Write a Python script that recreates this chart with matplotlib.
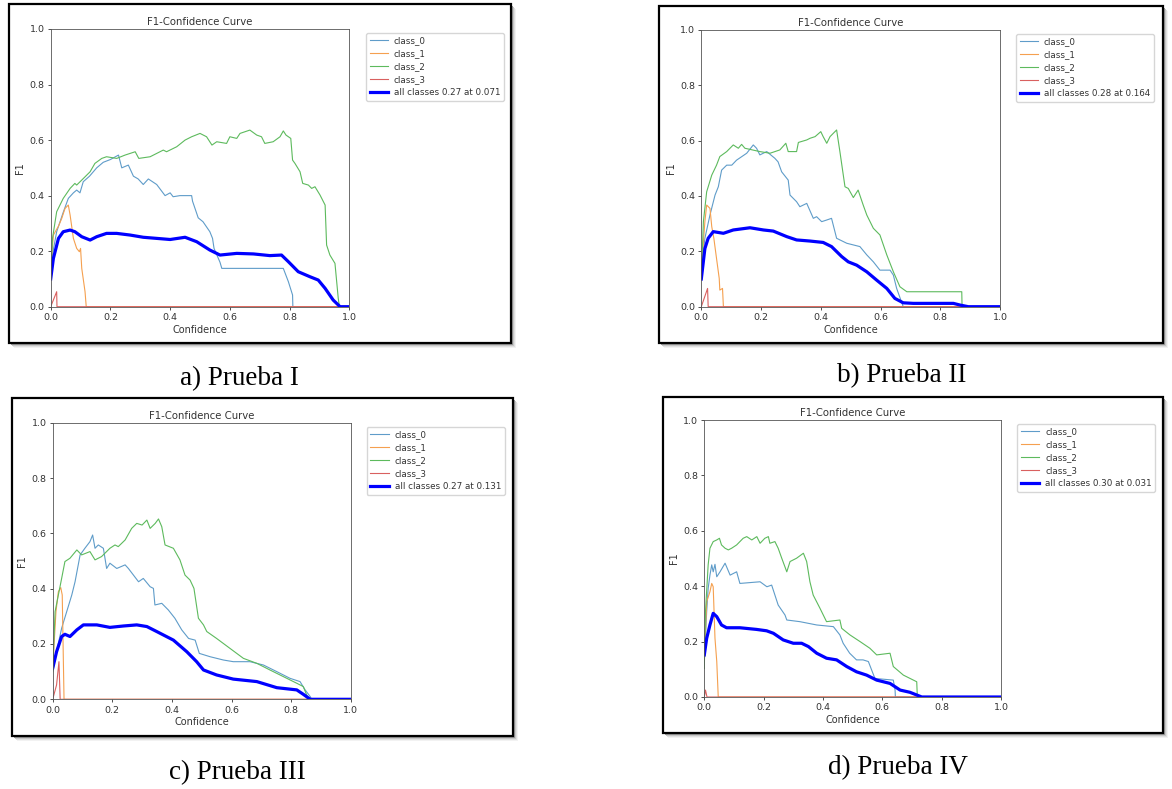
import matplotlib.pyplot as plt
from matplotlib.patches import Rectangle

# ---- data (confidence, F1) ----
# a) Prueba I
a_c0_x = [0, 0.003, 0.02, 0.042, 0.059, 0.076, 0.087, 0.098, 0.109, 0.13, 0.154, 0.176, 0.2, 0.227, 0.238, 0.26, 0.277, 0.293, 0.31, 0.327, 0.355, 0.383, 0.4, 0.41, 0.433, 0.472, 0.475, 0.494, 0.51, 0.533, 0.542, 0.547, 0.567, 0.573, 0.779, 0.796, 0.81, 0.811, 1.0]
a_c0_y = [0.1, 0.17, 0.27, 0.34, 0.39, 0.41, 0.42, 0.41, 0.45, 0.47, 0.5, 0.52, 0.53, 0.546, 0.5, 0.51, 0.47, 0.46, 0.44, 0.46, 0.44, 0.40, 0.41, 0.396, 0.40, 0.40, 0.38, 0.32, 0.306, 0.27, 0.246, 0.21, 0.16, 0.138, 0.138, 0.09, 0.042, 0, 0]
a_c1_x = [0, 0.009, 0.026, 0.037, 0.048, 0.059, 0.065, 0.076, 0.087, 0.096, 0.1, 0.104, 0.115, 0.119, 1.0]
a_c1_y = [0.13, 0.258, 0.29, 0.318, 0.354, 0.366, 0.33, 0.246, 0.21, 0.198, 0.21, 0.138, 0.054, 0, 0]
a_c2_x = [0, 0.006, 0.02, 0.042, 0.065, 0.081, 0.087, 0.104, 0.132, 0.148, 0.171, 0.187, 0.221, 0.249, 0.283, 0.295, 0.333, 0.377, 0.388, 0.422, 0.45, 0.472, 0.5, 0.522, 0.54, 0.556, 0.589, 0.6, 0.623, 0.634, 0.667, 0.69, 0.706, 0.717, 0.745, 0.768, 0.779, 0.788, 0.796, 0.804, 0.81, 0.818, 0.835, 0.844, 0.863, 0.874, 0.885, 0.902, 0.919, 0.924, 0.935, 0.952, 0.963, 0.967, 1.0]
a_c2_y = [0.1, 0.246, 0.342, 0.39, 0.426, 0.444, 0.438, 0.456, 0.486, 0.516, 0.534, 0.54, 0.534, 0.546, 0.558, 0.534, 0.54, 0.564, 0.558, 0.576, 0.6, 0.612, 0.624, 0.612, 0.582, 0.594, 0.588, 0.612, 0.606, 0.624, 0.636, 0.618, 0.612, 0.588, 0.594, 0.612, 0.633, 0.618, 0.612, 0.606, 0.528, 0.516, 0.486, 0.444, 0.438, 0.426, 0.432, 0.402, 0.366, 0.222, 0.186, 0.156, 0.03, 0, 0]
a_c3_x = [0, 0.02, 0.021, 1.0]
a_c3_y = [0, 0.054, 0, 0]
a_all_x = [0, 0.009, 0.026, 0.042, 0.065, 0.081, 0.104, 0.132, 0.154, 0.187, 0.221, 0.266, 0.31, 0.355, 0.4, 0.45, 0.489, 0.533, 0.567, 0.623, 0.679, 0.734, 0.773, 0.796, 0.829, 0.868, 0.896, 0.919, 0.946, 0.969, 1.0]
a_all_y = [0.1, 0.174, 0.246, 0.27, 0.276, 0.27, 0.252, 0.24, 0.252, 0.264, 0.264, 0.258, 0.25, 0.246, 0.242, 0.25, 0.234, 0.204, 0.186, 0.192, 0.19, 0.184, 0.186, 0.162, 0.126, 0.108, 0.096, 0.066, 0.024, 0, 0]

# b) Prueba II
b_c0_x = [0, 0.012, 0.029, 0.046, 0.057, 0.068, 0.085, 0.102, 0.118, 0.152, 0.174, 0.185, 0.196, 0.219, 0.246, 0.257, 0.269, 0.291, 0.297, 0.319, 0.33, 0.353, 0.375, 0.386, 0.403, 0.42, 0.436, 0.453, 0.487, 0.531, 0.554, 0.576, 0.598, 0.632, 0.643, 0.654, 0.676, 1.0]
b_c0_y = [0.126, 0.247, 0.331, 0.403, 0.433, 0.493, 0.511, 0.511, 0.529, 0.554, 0.584, 0.572, 0.548, 0.56, 0.536, 0.523, 0.487, 0.457, 0.403, 0.379, 0.361, 0.373, 0.319, 0.325, 0.307, 0.313, 0.319, 0.247, 0.229, 0.217, 0.187, 0.162, 0.132, 0.132, 0.114, 0.066, 0, 0]
b_c1_x = [0, 0.012, 0.018, 0.029, 0.035, 0.042, 0.051, 0.06, 0.062, 0.071, 0.074, 1.0]
b_c1_y = [0.126, 0.307, 0.367, 0.355, 0.289, 0.247, 0.174, 0.102, 0.06, 0.066, 0, 0]
b_c2_x = [0, 0.007, 0.018, 0.035, 0.051, 0.062, 0.085, 0.107, 0.124, 0.135, 0.146, 0.196, 0.23, 0.263, 0.283, 0.291, 0.319, 0.325, 0.353, 0.364, 0.381, 0.4, 0.408, 0.42, 0.431, 0.453, 0.464, 0.481, 0.492, 0.509, 0.525, 0.542, 0.554, 0.576, 0.598, 0.621, 0.643, 0.665, 0.688, 0.872, 0.873, 1.0]
b_c2_y = [0.1, 0.307, 0.415, 0.475, 0.511, 0.542, 0.56, 0.584, 0.572, 0.586, 0.572, 0.56, 0.554, 0.566, 0.59, 0.56, 0.56, 0.593, 0.602, 0.608, 0.614, 0.632, 0.614, 0.59, 0.614, 0.638, 0.56, 0.433, 0.427, 0.394, 0.421, 0.367, 0.331, 0.283, 0.259, 0.187, 0.126, 0.072, 0.054, 0.054, 0, 0]
b_c3_x = [0, 0.021, 0.023, 1.0]
b_c3_y = [0, 0.066, 0, 0]
b_all_x = [0, 0.012, 0.023, 0.04, 0.074, 0.107, 0.163, 0.208, 0.241, 0.286, 0.319, 0.364, 0.408, 0.436, 0.47, 0.492, 0.52, 0.554, 0.587, 0.621, 0.648, 0.676, 0.71, 0.844, 0.866, 0.894, 1.0]
b_all_y = [0.1, 0.21, 0.247, 0.271, 0.265, 0.277, 0.285, 0.277, 0.273, 0.253, 0.241, 0.237, 0.232, 0.217, 0.181, 0.162, 0.15, 0.126, 0.096, 0.066, 0.03, 0.014, 0.012, 0.012, 0.006, 0, 0]

# c) Prueba III
c_c0_x = [0, 0.013, 0.03, 0.047, 0.064, 0.075, 0.092, 0.108, 0.125, 0.134, 0.142, 0.153, 0.17, 0.181, 0.192, 0.215, 0.243, 0.254, 0.271, 0.288, 0.304, 0.327, 0.338, 0.343, 0.366, 0.388, 0.41, 0.433, 0.456, 0.478, 0.492, 0.528, 0.573, 0.606, 0.662, 0.707, 0.752, 0.796, 0.83, 0.847, 0.864, 0.869, 1.0]
c_c0_y = [0.1, 0.172, 0.257, 0.317, 0.377, 0.425, 0.522, 0.546, 0.57, 0.594, 0.546, 0.558, 0.546, 0.473, 0.492, 0.473, 0.486, 0.473, 0.449, 0.425, 0.437, 0.407, 0.401, 0.341, 0.347, 0.323, 0.293, 0.251, 0.22, 0.214, 0.166, 0.154, 0.142, 0.136, 0.136, 0.124, 0.1, 0.076, 0.064, 0.034, 0.01, 0, 0]
c_c1_x = [0, 0.011, 0.019, 0.027, 0.032, 0.038, 1.0]
c_c1_y = [0.112, 0.317, 0.389, 0.404, 0.377, 0, 0]
c_c2_x = [0, 0.008, 0.019, 0.03, 0.041, 0.058, 0.081, 0.097, 0.125, 0.142, 0.164, 0.192, 0.209, 0.22, 0.243, 0.265, 0.282, 0.3, 0.316, 0.327, 0.344, 0.355, 0.366, 0.377, 0.405, 0.427, 0.444, 0.461, 0.474, 0.489, 0.506, 0.517, 0.55, 0.595, 0.64, 0.685, 0.729, 0.774, 0.819, 0.841, 0.852, 0.864, 1.0]
c_c2_y = [0.1, 0.317, 0.377, 0.437, 0.498, 0.51, 0.54, 0.522, 0.534, 0.504, 0.516, 0.546, 0.558, 0.552, 0.576, 0.618, 0.636, 0.63, 0.648, 0.618, 0.636, 0.652, 0.624, 0.558, 0.546, 0.504, 0.449, 0.431, 0.401, 0.293, 0.269, 0.245, 0.22, 0.184, 0.148, 0.13, 0.106, 0.082, 0.058, 0.046, 0.016, 0, 0]
c_c3_x = [0, 0.013, 0.021, 0.025, 1.0]
c_c3_y = [0, 0.052, 0.136, 0, 0]
c_all_x = [0, 0.013, 0.03, 0.041, 0.058, 0.081, 0.103, 0.148, 0.192, 0.237, 0.282, 0.316, 0.349, 0.405, 0.45, 0.483, 0.506, 0.55, 0.606, 0.685, 0.752, 0.819, 0.841, 0.864, 1.0]
c_all_y = [0.112, 0.172, 0.227, 0.235, 0.227, 0.251, 0.269, 0.269, 0.26, 0.265, 0.269, 0.263, 0.245, 0.214, 0.172, 0.136, 0.106, 0.088, 0.073, 0.064, 0.042, 0.034, 0.018, 0, 0]

# d) Prueba IV
d_c0_x = [0, 0.008, 0.013, 0.019, 0.025, 0.03, 0.036, 0.042, 0.053, 0.07, 0.087, 0.109, 0.12, 0.188, 0.211, 0.227, 0.249, 0.272, 0.278, 0.322, 0.379, 0.435, 0.457, 0.468, 0.49, 0.513, 0.535, 0.553, 0.575, 0.637, 0.643, 0.644, 1.0]
d_c0_y = [0.128, 0.308, 0.392, 0.44, 0.477, 0.452, 0.479, 0.434, 0.452, 0.483, 0.44, 0.452, 0.41, 0.416, 0.398, 0.404, 0.332, 0.296, 0.278, 0.272, 0.26, 0.254, 0.224, 0.194, 0.158, 0.134, 0.134, 0.128, 0.067, 0.061, 0.025, 0, 0]
d_c1_x = [0, 0.008, 0.019, 0.025, 0.03, 0.036, 0.042, 0.047, 1.0]
d_c1_y = [0.128, 0.344, 0.38, 0.41, 0.398, 0.212, 0.128, 0, 0]
d_c2_x = [0, 0.004, 0.013, 0.019, 0.03, 0.042, 0.051, 0.058, 0.07, 0.081, 0.092, 0.109, 0.131, 0.143, 0.16, 0.177, 0.188, 0.204, 0.216, 0.221, 0.238, 0.249, 0.261, 0.278, 0.289, 0.311, 0.334, 0.345, 0.356, 0.367, 0.39, 0.412, 0.457, 0.463, 0.491, 0.525, 0.558, 0.581, 0.626, 0.637, 0.671, 0.716, 0.718, 1.0]
d_c2_y = [0.103, 0.308, 0.477, 0.537, 0.561, 0.567, 0.573, 0.549, 0.537, 0.531, 0.537, 0.549, 0.573, 0.579, 0.567, 0.579, 0.555, 0.573, 0.579, 0.555, 0.561, 0.537, 0.501, 0.452, 0.489, 0.501, 0.519, 0.489, 0.416, 0.368, 0.32, 0.272, 0.278, 0.248, 0.224, 0.2, 0.176, 0.152, 0.158, 0.11, 0.079, 0.055, 0, 0]
d_c3_x = [0, 0.004, 0.009, 1.0]
d_c3_y = [0, 0.025, 0, 0]
d_all_x = [0, 0.008, 0.019, 0.03, 0.042, 0.058, 0.075, 0.12, 0.176, 0.21, 0.233, 0.266, 0.3, 0.328, 0.351, 0.379, 0.412, 0.446, 0.48, 0.513, 0.547, 0.581, 0.626, 0.66, 0.693, 0.733, 1.0]
d_all_y = [0.152, 0.212, 0.26, 0.302, 0.29, 0.26, 0.25, 0.25, 0.244, 0.239, 0.23, 0.206, 0.194, 0.194, 0.182, 0.158, 0.14, 0.134, 0.11, 0.091, 0.079, 0.061, 0.049, 0.025, 0.017, 0, 0]

class_names = ['class_0', 'class_1', 'class_2', 'class_3']
# tab10 colours, softened (the reference is a blurred screenshot)
class_colors = ['#5f9cc9', '#f5a04f', '#5dba5d', '#d9605f']
best_labels = ['all classes 0.27 at 0.071', 'all classes 0.28 at 0.164',
               'all classes 0.27 at 0.131', 'all classes 0.30 at 0.031']
captions = ['a) Prueba I', 'b) Prueba II', 'c) Prueba III', 'd) Prueba IV']

# ---- layout in pixels of the reference ----
W, H = 1172, 789
fig = plt.figure(figsize=(W / 100, H / 100), dpi=100)


def fbox(x0, y0, x1, y1):
    return [x0 / W, 1 - y1 / H, (x1 - x0) / W, (y1 - y0) / H]


def frame(x0, y0, x1, y1):
    # soft drop shadow, then the black-bordered white card
    for d, g in [(5, '0.95'), (4, '0.88'), (3, '0.78'), (2, '0.6')]:
        fig.patches.append(Rectangle(((x0 + d) / W, 1 - (y1 + d) / H), (x1 - x0) / W, (y1 - y0) / H,
                                     transform=fig.transFigure, facecolor=g, edgecolor='none', zorder=-3))
    fig.patches.append(Rectangle((x0 / W, 1 - y1 / H), (x1 - x0) / W, (y1 - y0) / H,
                                 transform=fig.transFigure, facecolor='white', edgecolor='black',
                                 linewidth=1.6, zorder=-2))


def panel(ax_px, leg_px, series, best):
    ax = fig.add_axes(fbox(*ax_px))
    for (x, y), name, c in zip(series[:4], class_names, class_colors):
        ax.plot(x, y, linewidth=0.8, color=c, label=name)
    ax.plot(series[4][0], series[4][1], linewidth=2.3, color='blue', label=best)
    ax.set_xlim(0, 1)
    ax.set_ylim(0, 1)
    ax.set_xticks([0, 0.2, 0.4, 0.6, 0.8, 1.0])
    ax.set_yticks([0, 0.2, 0.4, 0.6, 0.8, 1.0])
    ax.tick_params(labelsize=6.8, length=2.5, width=0.6, pad=2, colors='#333333')
    for s in ax.spines.values():
        s.set_linewidth(0.6)
        s.set_color('#555555')
    ax.set_xlabel('Confidence', fontsize=7, labelpad=2, color='#333333')
    ax.set_ylabel('F1', fontsize=7, labelpad=3, color='#333333')
    ax.set_title('F1-Confidence Curve', fontsize=7.3, pad=3, color='#333333')
    leg = ax.legend(loc='upper left', bbox_to_anchor=(leg_px[0] / W, 1 - leg_px[1] / H),
                    bbox_transform=fig.transFigure, borderaxespad=0, fontsize=6.3,
                    labelspacing=0.45, handlelength=2.1, handletextpad=0.7, borderpad=0.4)
    for t in leg.get_texts():
        t.set_color('#333333')
    return ax


frames = [(9, 4, 511, 343), (659, 6, 1163, 343), (12, 398, 513, 736), (663, 397, 1163, 733)]
axes_px = [(50.7, 29, 349.3, 306.7), (701.3, 29.7, 1000, 306.7),
           (52.7, 422.7, 350.7, 699.3), (704.3, 420, 1001, 697)]
legend_px = [(366, 33), (1016, 34), (366.7, 427), (1017, 424)]
caption_px = [(239, 379), (902, 376), (237, 773), (898, 768)]

all_series = [
    [(a_c0_x, a_c0_y), (a_c1_x, a_c1_y), (a_c2_x, a_c2_y), (a_c3_x, a_c3_y), (a_all_x, a_all_y)],
    [(b_c0_x, b_c0_y), (b_c1_x, b_c1_y), (b_c2_x, b_c2_y), (b_c3_x, b_c3_y), (b_all_x, b_all_y)],
    [(c_c0_x, c_c0_y), (c_c1_x, c_c1_y), (c_c2_x, c_c2_y), (c_c3_x, c_c3_y), (c_all_x, c_all_y)],
    [(d_c0_x, d_c0_y), (d_c1_x, d_c1_y), (d_c2_x, d_c2_y), (d_c3_x, d_c3_y), (d_all_x, d_all_y)],
]

for i in range(4):
    frame(*frames[i])
    panel(axes_px[i], legend_px[i], all_series[i], best_labels[i])
    fig.text(caption_px[i][0] / W, 1 - caption_px[i][1] / H, captions[i], ha='center', va='center',
             fontsize=19.5, family='Liberation Serif')

fig.savefig('out.png', dpi=100)
